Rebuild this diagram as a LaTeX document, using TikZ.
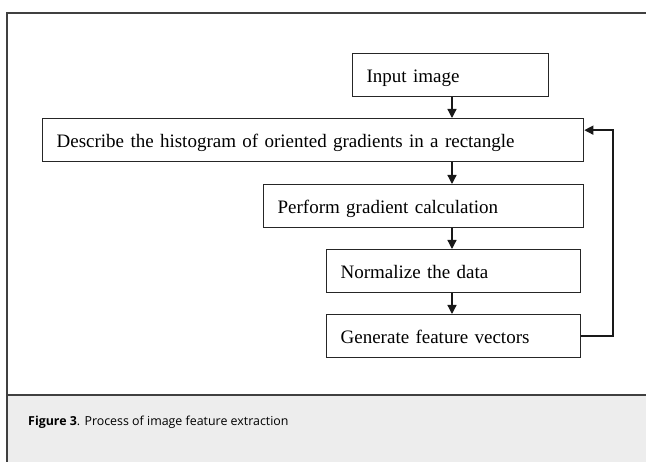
\documentclass[tikz,border=0pt]{standalone}
\usepackage{fontspec}
\setmainfont{Liberation Serif}
\newfontfamily\capfont{Open Sans}
\usetikzlibrary{arrows.meta}

\tikzset{
  stepbox/.style={draw=black!85, line width=1.3pt, anchor=north west, align=left,
    inner xsep=14pt, inner ysep=0pt, minimum height=43pt,
    text height=16pt, text depth=1pt, font=\fontsize{19}{22}\selectfont},
  flow/.style={-{Triangle[length=9pt,width=9pt]}, line width=1.3pt, black!90},
  frame/.style={line width=1.2pt, black!75}
}

\begin{document}
\begin{tikzpicture}[x=1pt, y=-1pt]
\useasboundingbox (0,0) rectangle (646,462);

% caption band
\fill[black!7] (7,395) rectangle (646,462);
\draw[frame] (646,13) -- (7,13) -- (7,462);
\draw[frame] (7,395) -- (646,395);
\node (cap) [anchor=base west, inner sep=0pt, font=\capfont\fontsize{12.4}{15}\selectfont]
  at (28,426) {\textbf{Figure 3}. Process of image feature extraction};

% Steps
\node (input) [stepbox, text width=168pt] at (352,53) {Input image};
\node (describe) [stepbox, text width=513pt] at (42,118) {Describe the histogram of oriented gradients in a rectangle};
\node (perform) [stepbox, text width=292pt] at (263,184) {Perform gradient calculation};
\node (normalize) [stepbox, text width=226pt] at (326,249) {Normalize the data};
\node (generate) [stepbox, text width=226pt] at (326,314) {Generate feature vectors};

% spine of the downward arrows
\coordinate (spine) at (452,0);
\draw[flow] (input.south -| spine) -- (describe.north -| spine);
\draw[flow] (describe.south -| spine) -- (perform.north -| spine);
\draw[flow] (perform.south -| spine) -- (normalize.north -| spine);
\draw[flow] (normalize.south -| spine) -- (generate.north -| spine);

% loop back to the top step
\coordinate (back) at (613,0);
\coordinate (entry) at ([yshift=10pt]describe.east);
\draw[flow] (generate.east) -| (back |- entry) -- (entry);
\end{tikzpicture}
\end{document}
